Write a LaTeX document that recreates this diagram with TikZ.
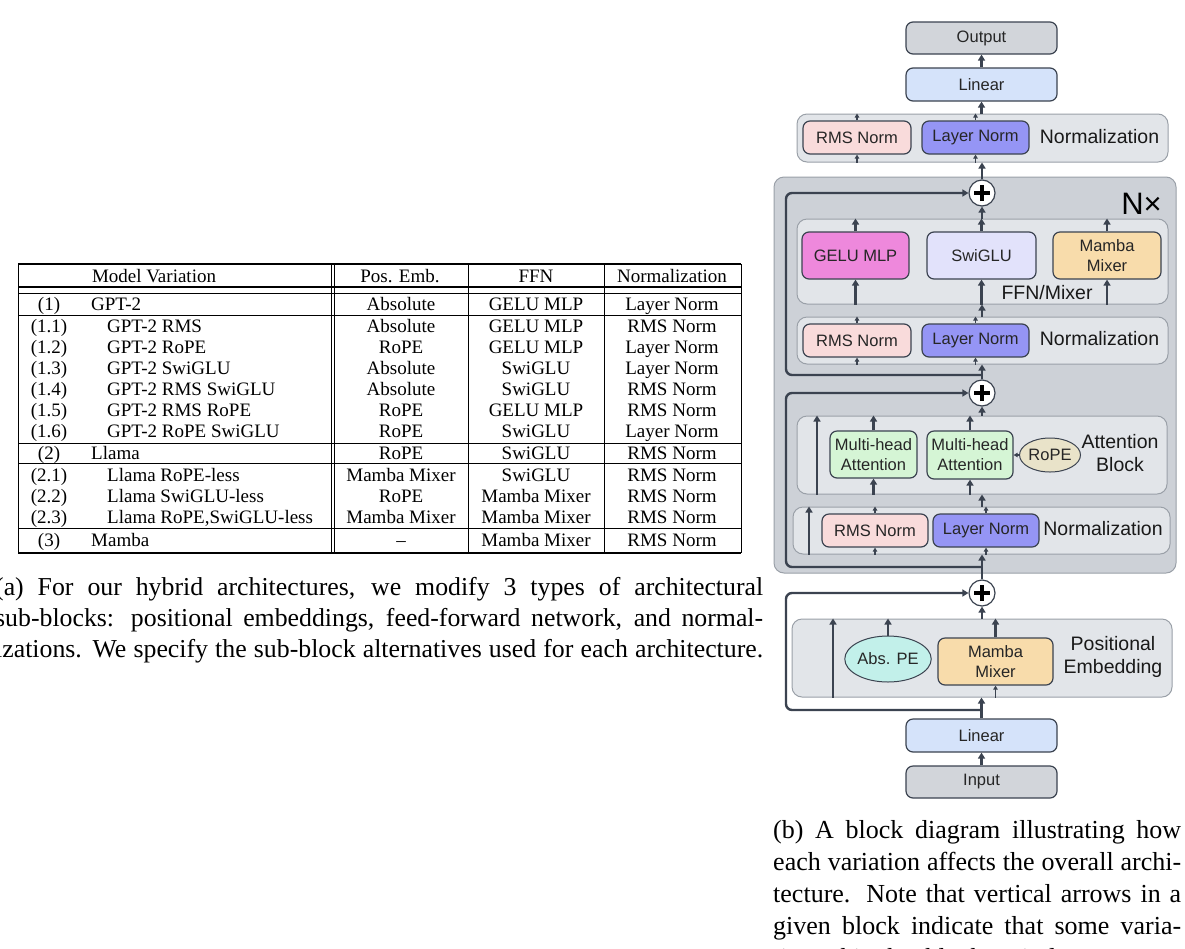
\documentclass[tikz,border=0pt]{standalone}
\usepackage{fontspec}
\setmainfont{Liberation Serif}
\setsansfont{Liberation Sans}
\usetikzlibrary{shapes.geometric, arrows.meta, positioning, calc}

\definecolor{linec}{HTML}{3B4350}
\definecolor{outerc}{HTML}{CDD1D7}
\definecolor{grpc}{HTML}{E2E5E9}
\definecolor{grpline}{HTML}{9AA0A8}
\definecolor{ioc}{HTML}{D2D5DA}
\definecolor{linc}{HTML}{D5E3FA}
\definecolor{rmsc}{HTML}{F9DBDB}
\definecolor{layc}{HTML}{9595F5}
\definecolor{geluc}{HTML}{EE88DC}
\definecolor{swic}{HTML}{E2E2FB}
\definecolor{mambac}{HTML}{F8DCAB}
\definecolor{mhac}{HTML}{D5F5D5}
\definecolor{ropec}{HTML}{E9E3C9}
\definecolor{absc}{HTML}{C2F0EA}

\begin{document}
\begin{tikzpicture}[x=1pt, y=-1pt,
    outer/.style={draw=grpline, fill=outerc, line width=1pt, rounded corners=10pt, inner sep=0pt},
    grp/.style={draw=grpline, fill=grpc, line width=1pt, rounded corners=10pt, inner sep=0pt},
    box/.style={draw=linec, line width=1.2pt, rounded corners=7pt, inner sep=0pt, align=center,
        font=\sffamily\fontsize{16.5}{20}\selectfont, text=black!85},
    oval/.style={ellipse, draw=linec, line width=1pt, inner sep=0pt, align=center,
        font=\sffamily\fontsize{16.5}{20}\selectfont, text=black!85},
    lbl/.style={font=\sffamily\fontsize{19.5}{23}\selectfont, align=center, text=black!90},
    arr/.style={draw=linec, line width=2.4pt, -{Triangle[length=6pt, width=7pt]}},
    sarr/.style={draw=linec, line width=1.2pt, -{Triangle[length=4pt, width=4.5pt]}},
    plus/.style={circle, draw=linec, fill=white, line width=1.2pt, minimum size=26pt, inner sep=0pt,
        path picture={\draw[black, line width=4pt]
            ([xshift=-8pt]path picture bounding box.center) -- ([xshift=8pt]path picture bounding box.center)
            ([yshift=-8pt]path picture bounding box.center) -- ([yshift=8pt]path picture bounding box.center);}},
    cell/.style={anchor=base, inner sep=0pt, font=\fontsize{19}{21}\selectfont},
]
    \fill[white] (0,0) rectangle (1185,948);
    \useasboundingbox (0,0) rectangle (1185,948);

    % Table rules
    \draw[line width=1.8pt] (18,264) -- (741,264);
    \draw[line width=1.4pt] (18,287) -- (741,287) (18,293.5) -- (741,293.5);
    \foreach \yy in {315,443,463,528}
        \draw[line width=0.8pt] (18,\yy) -- (741,\yy);
    \draw[line width=1.8pt] (18,553) -- (741,553);
    \foreach \xx in {18,331,334.5,468,604,741}
        \draw[line width=0.8pt] (\xx,264) -- (\xx,553);

    % Table header
    \node[cell] (hmodel) at (154,282) {Model Variation};
    \node[cell] (hpos) at (400,282) {Pos. Emb.};
    \node[cell] (hffn) at (536,282) {FFN};
    \node[cell] (hnorm) at (672,282) {Normalization};

    % Table rows
    \foreach \yy/\rnum/\nx/\rname/\rpos/\rffn/\rnorm [count=\i] in {
        310/(1)/91/GPT-2/Absolute/GELU MLP/Layer Norm,
        332/(1.1)/107/GPT-2 RMS/Absolute/GELU MLP/RMS Norm,
        353/(1.2)/107/GPT-2 RoPE/RoPE/GELU MLP/Layer Norm,
        374/(1.3)/107/GPT-2 SwiGLU/Absolute/SwiGLU/Layer Norm,
        395/(1.4)/107/GPT-2 RMS SwiGLU/Absolute/SwiGLU/RMS Norm,
        416/(1.5)/107/GPT-2 RMS RoPE/RoPE/GELU MLP/RMS Norm,
        437/(1.6)/107/GPT-2 RoPE SwiGLU/RoPE/SwiGLU/Layer Norm,
        459/(2)/91/Llama/RoPE/SwiGLU/RMS Norm,
        481/(2.1)/107/Llama RoPE-less/Mamba Mixer/SwiGLU/RMS Norm,
        502/(2.2)/107/Llama SwiGLU-less/RoPE/Mamba Mixer/RMS Norm,
        {523/(2.3)/107/Llama RoPE,SwiGLU-less/Mamba Mixer/Mamba Mixer/RMS Norm},
        546/(3)/91/Mamba/--/Mamba Mixer/RMS Norm} {
        \node[cell] (num\i) at (49,\yy) {\rnum};
        \node[cell, anchor=base west] (name\i) at (\nx,\yy) {\rname};
        \node[cell] (pos\i) at (401,\yy) {\rpos};
        \node[cell] (ffn\i) at (536,\yy) {\rffn};
        \node[cell] (norm\i) at (672,\yy) {\rnorm};
    }

    % Captions
    \node[anchor=north west, inner sep=0pt, align=left,
        font=\fontsize{25.8}{31}\selectfont] (capa) at (-5,577)
        {\makebox[768pt][s]{(a) For our hybrid architectures, we modify 3 types of architectural}\\
        \makebox[768pt][s]{sub-blocks: positional embeddings, feed-forward network, and normal-}\\
        \makebox[768pt][s]{izations. We specify the sub-block alternatives used for each architecture.}};
    \node[anchor=north west, inner sep=0pt, align=left,
        font=\fontsize{26}{32}\selectfont] (capb) at (773,820)
        {\makebox[408pt][s]{(b) A block diagram illustrating how}\\
        \makebox[408pt][s]{each variation affects the overall archi-}\\
        \makebox[408pt][s]{tecture. Note that vertical arrows in a}\\
        \makebox[408pt][s]{given block indicate that some varia-}\\
        tions skip that block entirely.};

    % Repeated block
    \node[outer, minimum width=402pt, minimum height=396pt] (blockN) at (975,375) {};
    \node[font=\sffamily\fontsize{31}{31}\selectfont, anchor=east, inner sep=0pt] (nx) at (1162,204) {N×};

    % Groups
    \node[grp, minimum width=371pt, minimum height=48pt] (normT) at (982.5,138) {};
    \node[grp, minimum width=371pt, minimum height=85pt] (ffn) at (982.5,261.5) {};
    \node[grp, minimum width=371pt, minimum height=47pt] (normM) at (982.5,340.5) {};
    \node[grp, minimum width=370pt, minimum height=78pt] (att) at (982,455) {};
    \node[grp, minimum width=377pt, minimum height=47pt] (normB) at (981.5,530.5) {};
    \node[grp, minimum width=380pt, minimum height=78pt] (pe) at (982,658) {};

    % Top boxes
    \node[box, fill=ioc, minimum width=151pt, minimum height=32pt] (output) at (981.5,38) {Output};
    \node[box, fill=linc, minimum width=151pt, minimum height=33pt] (linT) at (981.5,84.5) {Linear};
    \node[box, fill=rmsc, minimum width=108pt, minimum height=33pt] (rmsT) at (857,137.5) {RMS Norm};
    \node[box, fill=layc, minimum width=107pt, minimum height=33pt] (layT) at (975.5,137.5) {Layer Norm};
    \node[lbl] (normTl) at (1099.5,137) {Normalization};

    % FFN / Mixer
    \node[box, fill=geluc, minimum width=107pt, minimum height=47pt] (gelu) at (855.5,255.5) {GELU MLP};
    \node[box, fill=swic, minimum width=109pt, minimum height=47pt] (swiglu) at (981.5,255.5) {SwiGLU};
    \node[box, fill=mambac, minimum width=108pt, minimum height=47pt] (mamF) at (1107,255.5) {Mamba\\Mixer};
    \node[lbl] (ffnl) at (1047,293) {FFN/Mixer};

    % Middle normalization
    \node[box, fill=rmsc, minimum width=108pt, minimum height=33pt] (rmsM) at (857,340.5) {RMS Norm};
    \node[box, fill=layc, minimum width=107pt, minimum height=33pt] (layM) at (975.5,340.5) {Layer Norm};
    \node[lbl] (normMl) at (1099.5,339) {Normalization};

    % Attention block
    \node[box, fill=mhac, minimum width=87pt, minimum height=47pt] (mha1) at (873.5,454.5) {Multi-head\\Attention};
    \node[box, fill=mhac, minimum width=86pt, minimum height=48pt] (mha2) at (970,455) {Multi-head\\Attention};
    \node[oval, fill=ropec, minimum width=54pt, minimum height=34pt] (rope) at (1050,455) {RoPE};
    \node[lbl] (attl) at (1120,453) {Attention\\Block};

    % Bottom normalization
    \node[box, fill=rmsc, minimum width=106pt, minimum height=33pt] (rmsB) at (875,530.5) {RMS Norm};
    \node[box, fill=layc, minimum width=106pt, minimum height=33pt] (layB) at (986,530.5) {Layer Norm};
    \node[lbl] (normBl) at (1103,529) {Normalization};

    % Positional embedding
    \node[oval, fill=absc, minimum width=70pt, minimum height=46pt] (absPE) at (888,659) {Abs. PE};
    \node[box, fill=mambac, minimum width=115pt, minimum height=47pt] (mamP) at (995.5,661.5) {Mamba\\Mixer};
    \node[lbl] (pel) at (1113,657) {Positional\\Embedding};

    % Input side
    \node[box, fill=linc, minimum width=151pt, minimum height=33pt] (linB) at (981.5,735.5) {Linear};
    \node[box, fill=ioc, minimum width=151pt, minimum height=32pt] (input) at (981.5,782) {Input};

    % Residual adds
    \node[plus] (plus1) at (982,193) {};
    \node[plus] (plus2) at (982,393) {};
    \node[plus] (plus3) at (982,593) {};

    % Helper points
    \coordinate (j1) at (982,375);
    \coordinate (k1) at (786,193);
    \coordinate (j2) at (982,567);
    \coordinate (k2) at (786,393);
    \coordinate (j3) at (982,710);
    \coordinate (k3) at (786,593);
    \coordinate (byA) at (817,455);
    \coordinate (byB) at (809,530);
    \coordinate (byP) at (833,658);

    % Input path
    \draw[arr] (input.north) -- (linB.south);
    \draw[arr] (linB.north) -- (linB.north |- pe.south);
    \draw[arr, rounded corners=6pt] (j3) -| (k3) -- (plus3.west);
    \draw[arr] (pe.south -| byP) -- (pe.north -| byP);
    \draw[arr] (absPE.north) -- (absPE.north |- pe.north);
    \draw[arr] (mamP.north) -- (mamP.north |- pe.north);
    \draw[sarr] (pe.south -| mamP) -- (mamP.south);
    \draw[arr] (pe.north -| plus3) -- (plus3.south);

    % Attention half
    \draw[arr] (plus3.north) -- (plus3.north |- normB.south);
    \draw[arr, rounded corners=6pt] (j2) -| (k2) -- (plus2.west);
    \draw[arr] (normB.south -| byB) -- (normB.north -| byB);
    \foreach \b in {rmsB, layB} {
        \draw[sarr] (normB.south -| \b) -- (\b.south);
        \draw[sarr] (\b.north) -- (\b.north |- normB.north);
    }
    \draw[arr] (normB.north -| plus2) -- (att.south -| plus2);
    \draw[arr] (att.south -| byA) -- (att.north -| byA);
    \foreach \b in {mha1, mha2} {
        \draw[arr] (att.south -| \b) -- (\b.south);
        \draw[arr] (\b.north) -- (\b.north |- att.north);
    }
    \draw[sarr] (rope.west) -- (mha2.east);
    \draw[arr] (att.north -| plus2) -- (plus2.south);

    % FFN half
    \draw[arr] (plus2.north) -- (plus2.north |- normM.south);
    \draw[arr, rounded corners=6pt] (j1) -| (k1) -- (plus1.west);
    \foreach \b in {rmsM, layM} {
        \draw[sarr] (normM.south -| \b) -- (\b.south);
        \draw[sarr] (\b.north) -- (\b.north |- normM.north);
    }
    \draw[arr] (normM.north -| plus1) -- (ffn.south -| plus1);
    \foreach \b in {gelu, swiglu, mamF} {
        \draw[arr] (ffn.south -| \b) -- (\b.south);
        \draw[arr] (\b.north) -- (\b.north |- ffn.north);
    }
    \draw[arr] (ffn.north -| plus1) -- (plus1.south);

    % Output path
    \draw[arr] (plus1.north) -- (plus1.north |- normT.south);
    \foreach \b in {rmsT, layT} {
        \draw[sarr] (normT.south -| \b) -- (\b.south);
        \draw[sarr] (\b.north) -- (\b.north |- normT.north);
    }
    \draw[arr] (normT.north -| linT) -- (linT.south);
    \draw[arr] (linT.north) -- (output.south);
\end{tikzpicture}
\end{document}
